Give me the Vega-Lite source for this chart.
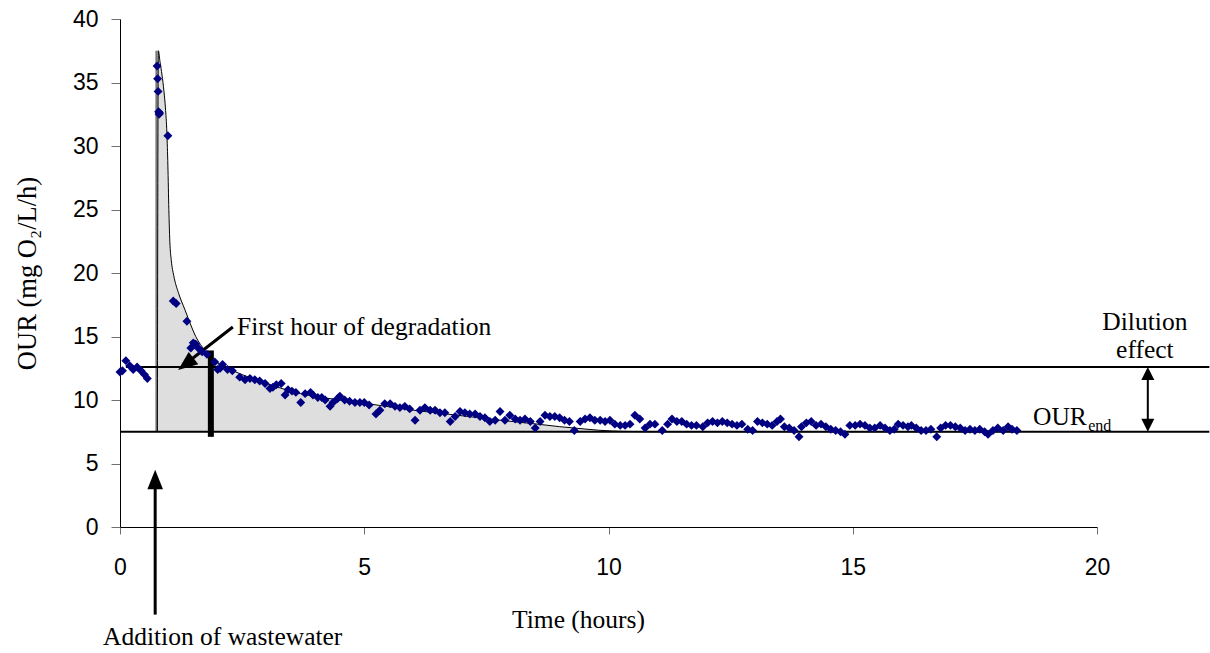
{
  "$schema": "https://vega.github.io/schema/vega-lite/v6.json",
  "width": 977,
  "height": 508,
  "autosize": {"type": "none"},
  "padding": {"left": 120, "top": 19, "right": 113, "bottom": 126},
  "background": "white",
  "config": {"view": {"stroke": null}},
  "encoding": {
    "x": {
      "field": "t", "type": "quantitative",
      "scale": {"domain": [0, 20], "nice": false, "zero": false},
      "axis": {
        "title": "Time (hours)", "values": [0, 5, 10, 15, 20], "grid": false, "labelFlush": false, "labelOverlap": false,
        "labelFont": "Liberation Sans", "labelFontSize": 23, "labelColor": "black", "labelPadding": 22,
        "tickSize": 7, "tickColor": "#707070", "domainColor": "black", "domainWidth": 1,
        "titleFont": "Liberation Serif", "titleFontSize": 25.5, "titleFontWeight": "normal", "titleColor": "black",
        "titleX": 458, "titleY": 100, "titleBaseline": "alphabetic", "titleAlign": "center"
      }
    },
    "y": {
      "field": "v", "type": "quantitative",
      "scale": {"domain": [0, 40], "nice": false, "zero": false},
      "axis": {
        "title": "OUR (mg O₂/L/h)", "values": [0, 5, 10, 15, 20, 25, 30, 35, 40], "grid": false, "labelFlush": false, "labelOverlap": false,
        "labelFont": "Liberation Sans", "labelFontSize": 23, "labelColor": "black", "labelPadding": 13,
        "tickSize": 9, "tickColor": "#707070", "domainColor": "black", "domainWidth": 1,
        "titleFont": "Liberation Serif", "titleFontSize": 26.5, "titleFontWeight": "normal", "titleColor": "black",
        "titleX": -85, "titleY": 254, "titleAngle": -90, "titleBaseline": "alphabetic", "titleAlign": "center"
      }
    }
  },
  "layer": [
    {
      "data": {"values": [
        {"t": 0.745, "v": 37.5}, {"t": 0.785, "v": 37.5}, {"t": 0.82, "v": 36.6}, {"t": 0.86, "v": 35.6},
        {"t": 0.9, "v": 34.3}, {"t": 0.93, "v": 33.0}, {"t": 0.96, "v": 31.0}, {"t": 0.98, "v": 28.5},
        {"t": 1.0, "v": 25.0}, {"t": 1.02, "v": 22.5}, {"t": 1.05, "v": 21.0}, {"t": 1.1, "v": 19.8},
        {"t": 1.2, "v": 18.4}, {"t": 1.33, "v": 17.1}, {"t": 1.45, "v": 15.9}, {"t": 1.55, "v": 15.0},
        {"t": 1.74, "v": 13.9}, {"t": 2.0, "v": 12.9}, {"t": 2.15, "v": 12.6}, {"t": 2.5, "v": 12.0},
        {"t": 3.0, "v": 11.3}, {"t": 3.7, "v": 10.5}, {"t": 4.5, "v": 10.0}, {"t": 5.0, "v": 9.75},
        {"t": 6.0, "v": 9.2}, {"t": 6.8, "v": 8.85}, {"t": 7.8, "v": 8.4}, {"t": 8.5, "v": 8.12},
        {"t": 9.0, "v": 7.9}, {"t": 9.5, "v": 7.72}, {"t": 9.8, "v": 7.62}, {"t": 10.3, "v": 7.53},
        {"t": 11.0, "v": 7.5}, {"t": 18.36, "v": 7.5}
      ]},
      "mark": {"type": "area", "color": "#dedede", "opacity": 1},
      "encoding": {"y2": {"datum": 7.5}}
    },
    {
      "data": {"values": [{"t": 0.745, "v": 7.5, "v2": 37.5}]},
      "mark": {"type": "rule", "color": "#777777", "strokeWidth": 2},
      "encoding": {"y2": {"field": "v2"}}
    },
    {
      "data": {"values": [
        {"t": 0.765, "v": 7.5}, {"t": 0.785, "v": 37.5}, {"t": 0.82, "v": 36.6}, {"t": 0.86, "v": 35.6},
        {"t": 0.9, "v": 34.3}, {"t": 0.93, "v": 33.0}, {"t": 0.96, "v": 31.0}, {"t": 0.98, "v": 28.5},
        {"t": 1.0, "v": 25.0}, {"t": 1.02, "v": 22.5}, {"t": 1.05, "v": 21.0}, {"t": 1.1, "v": 19.8},
        {"t": 1.2, "v": 18.4}, {"t": 1.33, "v": 17.1}, {"t": 1.45, "v": 15.9}, {"t": 1.55, "v": 15.0},
        {"t": 1.74, "v": 13.9}, {"t": 2.0, "v": 12.9}, {"t": 2.15, "v": 12.6}, {"t": 2.5, "v": 12.0},
        {"t": 3.0, "v": 11.3}, {"t": 3.7, "v": 10.5}, {"t": 4.5, "v": 10.0}, {"t": 5.0, "v": 9.75},
        {"t": 6.0, "v": 9.2}, {"t": 6.8, "v": 8.85}, {"t": 7.8, "v": 8.4}, {"t": 8.5, "v": 8.12},
        {"t": 9.0, "v": 7.9}, {"t": 9.5, "v": 7.72}, {"t": 9.8, "v": 7.62}, {"t": 10.3, "v": 7.53},
        {"t": 11.0, "v": 7.5}, {"t": 18.36, "v": 7.5}
      ]},
      "mark": {"type": "line", "color": "black", "strokeWidth": 1, "interpolate": "monotone"}
    },
    {
      "data": {"values": [
        {"t": 0, "t2": 22.3, "v": 7.5},
        {"t": 0.12, "t2": 22.3, "v": 12.6}
      ]},
      "mark": {"type": "rule", "color": "black", "strokeWidth": 2, "clip": false},
      "encoding": {"x2": {"field": "t2"}}
    },
    {
      "data": {"values": [{"t": 1.86, "v": 7.1, "v2": 13.9}]},
      "mark": {"type": "rule", "color": "black", "strokeWidth": 6, "strokeCap": "butt"},
      "encoding": {"y2": {"field": "v2"}}
    },
    {
      "data": {"values": [{"t": 2.31, "v": 15.75, "t2": 1.35, "v2": 12.87}]},
      "mark": {"type": "rule", "color": "black", "strokeWidth": 3},
      "encoding": {"x2": {"field": "t2"}, "y2": {"field": "v2"}}
    },
    {
      "data": {"values": [{"t": 0.72, "v": -6.9, "v2": 3.5}]},
      "mark": {"type": "rule", "color": "black", "strokeWidth": 3, "strokeCap": "butt", "clip": false},
      "encoding": {"y2": {"field": "v2"}}
    },
    {
      "data": {"values": [{"t": 21.04, "v": 8.3, "v2": 11.8}]},
      "mark": {"type": "rule", "color": "black", "strokeWidth": 2, "clip": false},
      "encoding": {"y2": {"field": "v2"}}
    },
    {
      "data": {"values": [
        {"t": 1.19, "v": 12.36, "a": 232},
        {"t": 0.72, "v": 4.5, "a": 0}
      ]},
      "mark": {"type": "point", "shape": "M0,0L0.8,2L-0.8,2Z", "filled": true, "color": "black", "opacity": 1, "size": 380, "strokeWidth": 0, "clip": false},
      "encoding": {"angle": {"field": "a", "type": "quantitative", "scale": null}}
    },
    {
      "data": {"values": [
        {"t": 21.04, "v": 12.6, "a": 0},
        {"t": 21.04, "v": 7.5, "a": 180}
      ]},
      "mark": {"type": "point", "shape": "M0,0L1,2L-1,2Z", "filled": true, "color": "black", "opacity": 1, "size": 169, "strokeWidth": 0, "clip": false},
      "encoding": {"angle": {"field": "a", "type": "quantitative", "scale": null}}
    },
    {
      "data": {"values": [
        {"t": 0.0, "v": 12.2}, {"t": 0.05, "v": 12.3}, {"t": 0.12, "v": 13.1}, {"t": 0.2, "v": 12.7},
        {"t": 0.27, "v": 12.4}, {"t": 0.35, "v": 12.6}, {"t": 0.43, "v": 12.3}, {"t": 0.5, "v": 12.0},
        {"t": 0.56, "v": 11.7},
        {"t": 0.76, "v": 36.3}, {"t": 0.77, "v": 35.3}, {"t": 0.78, "v": 34.3}, {"t": 0.79, "v": 32.7},
        {"t": 0.8, "v": 32.5}, {"t": 0.81, "v": 32.6}, {"t": 0.98, "v": 30.8},
        {"t": 1.09, "v": 17.8}, {"t": 1.15, "v": 17.6}, {"t": 1.37, "v": 16.2}, {"t": 1.45, "v": 14.1},
        {"t": 1.5, "v": 14.5}, {"t": 1.55, "v": 14.4}, {"t": 1.6, "v": 14.1}, {"t": 1.68, "v": 13.8},
        {"t": 1.78, "v": 13.6}, {"t": 1.94, "v": 13.0}, {"t": 2.0, "v": 12.4}, {"t": 2.05, "v": 12.5},
        {"t": 2.1, "v": 12.8}, {"t": 2.2, "v": 12.4}, {"t": 2.3, "v": 12.3}, {"t": 2.45, "v": 11.8},
        {"t": 2.56, "v": 11.6}, {"t": 2.66, "v": 11.7}, {"t": 2.76, "v": 11.6}, {"t": 2.86, "v": 11.5},
        {"t": 2.97, "v": 11.3}, {"t": 3.07, "v": 10.9}, {"t": 3.13, "v": 11.0}, {"t": 3.2, "v": 11.2},
        {"t": 3.3, "v": 11.3}, {"t": 3.38, "v": 10.4}, {"t": 3.44, "v": 10.8}, {"t": 3.52, "v": 10.7},
        {"t": 3.6, "v": 10.6}, {"t": 3.7, "v": 9.8}, {"t": 3.79, "v": 10.5}, {"t": 3.9, "v": 10.6},
        {"t": 3.95, "v": 10.4}, {"t": 4.05, "v": 10.2}, {"t": 4.13, "v": 10.2}, {"t": 4.2, "v": 10.0},
        {"t": 4.3, "v": 9.5}, {"t": 4.36, "v": 9.8}, {"t": 4.45, "v": 10.1}, {"t": 4.5, "v": 10.3},
        {"t": 4.6, "v": 10.0}, {"t": 4.7, "v": 9.9}, {"t": 4.81, "v": 9.8}, {"t": 4.91, "v": 9.8},
        {"t": 5.0, "v": 9.8}, {"t": 5.1, "v": 9.6}, {"t": 5.24, "v": 8.9}, {"t": 5.32, "v": 9.2},
        {"t": 5.42, "v": 9.7}, {"t": 5.53, "v": 9.7}, {"t": 5.63, "v": 9.5}, {"t": 5.73, "v": 9.4},
        {"t": 5.83, "v": 9.5}, {"t": 5.93, "v": 9.3}, {"t": 6.04, "v": 8.4}, {"t": 6.14, "v": 9.2},
        {"t": 6.24, "v": 9.4}, {"t": 6.35, "v": 9.2}, {"t": 6.45, "v": 9.2}, {"t": 6.55, "v": 9.0},
        {"t": 6.65, "v": 9.0}, {"t": 6.76, "v": 8.3}, {"t": 6.86, "v": 8.7}, {"t": 6.96, "v": 9.1},
        {"t": 7.06, "v": 9.0}, {"t": 7.16, "v": 8.9}, {"t": 7.27, "v": 8.9}, {"t": 7.37, "v": 8.7},
        {"t": 7.47, "v": 8.6}, {"t": 7.57, "v": 8.3}, {"t": 7.68, "v": 8.4}, {"t": 7.78, "v": 9.1},
        {"t": 7.88, "v": 8.4}, {"t": 7.98, "v": 8.8}, {"t": 8.09, "v": 8.5}, {"t": 8.19, "v": 8.4},
        {"t": 8.29, "v": 8.5}, {"t": 8.4, "v": 8.3}, {"t": 8.5, "v": 7.8}, {"t": 8.6, "v": 8.3},
        {"t": 8.7, "v": 8.8}, {"t": 8.8, "v": 8.7}, {"t": 8.9, "v": 8.7}, {"t": 9.0, "v": 8.6},
        {"t": 9.1, "v": 8.4}, {"t": 9.2, "v": 8.3}, {"t": 9.3, "v": 7.6}, {"t": 9.42, "v": 8.3},
        {"t": 9.52, "v": 8.5}, {"t": 9.62, "v": 8.6}, {"t": 9.72, "v": 8.4}, {"t": 9.83, "v": 8.4},
        {"t": 9.93, "v": 8.3}, {"t": 10.03, "v": 8.4}, {"t": 10.13, "v": 8.1}, {"t": 10.24, "v": 8.0},
        {"t": 10.34, "v": 8.0}, {"t": 10.44, "v": 8.1}, {"t": 10.54, "v": 8.8}, {"t": 10.64, "v": 8.5},
        {"t": 10.75, "v": 7.8}, {"t": 10.85, "v": 8.1}, {"t": 10.95, "v": 8.1}, {"t": 11.1, "v": 7.6},
        {"t": 11.21, "v": 8.1}, {"t": 11.3, "v": 8.5}, {"t": 11.4, "v": 8.3}, {"t": 11.5, "v": 8.3},
        {"t": 11.6, "v": 8.1}, {"t": 11.7, "v": 8.0}, {"t": 11.8, "v": 8.0}, {"t": 11.93, "v": 7.9},
        {"t": 12.03, "v": 8.2}, {"t": 12.13, "v": 8.3}, {"t": 12.23, "v": 8.2}, {"t": 12.33, "v": 8.3},
        {"t": 12.43, "v": 8.2}, {"t": 12.53, "v": 8.1}, {"t": 12.63, "v": 8.0}, {"t": 12.73, "v": 8.1},
        {"t": 12.85, "v": 7.7}, {"t": 12.95, "v": 7.6}, {"t": 13.05, "v": 8.3}, {"t": 13.15, "v": 8.2},
        {"t": 13.25, "v": 8.1}, {"t": 13.35, "v": 8.0}, {"t": 13.45, "v": 8.3}, {"t": 13.52, "v": 8.5},
        {"t": 13.6, "v": 7.9}, {"t": 13.7, "v": 7.8}, {"t": 13.8, "v": 7.6}, {"t": 13.9, "v": 7.1},
        {"t": 13.95, "v": 7.9}, {"t": 14.05, "v": 8.2}, {"t": 14.15, "v": 8.3}, {"t": 14.25, "v": 8.0},
        {"t": 14.35, "v": 8.1}, {"t": 14.45, "v": 7.9}, {"t": 14.55, "v": 7.7}, {"t": 14.65, "v": 7.6},
        {"t": 14.75, "v": 7.5}, {"t": 14.84, "v": 7.3}, {"t": 14.94, "v": 8.0}, {"t": 15.05, "v": 8.0},
        {"t": 15.15, "v": 8.1}, {"t": 15.25, "v": 8.0}, {"t": 15.35, "v": 7.8}, {"t": 15.45, "v": 7.8},
        {"t": 15.56, "v": 8.0}, {"t": 15.66, "v": 7.8}, {"t": 15.76, "v": 7.6}, {"t": 15.85, "v": 7.7},
        {"t": 15.93, "v": 8.1}, {"t": 16.03, "v": 8.0}, {"t": 16.13, "v": 7.9}, {"t": 16.2, "v": 8.0},
        {"t": 16.3, "v": 7.8}, {"t": 16.4, "v": 7.6}, {"t": 16.5, "v": 7.6}, {"t": 16.6, "v": 7.7},
        {"t": 16.72, "v": 7.1}, {"t": 16.8, "v": 7.8}, {"t": 16.9, "v": 8.0}, {"t": 17.0, "v": 8.0},
        {"t": 17.1, "v": 7.9}, {"t": 17.2, "v": 7.8}, {"t": 17.3, "v": 7.6}, {"t": 17.4, "v": 7.7},
        {"t": 17.5, "v": 7.6}, {"t": 17.6, "v": 7.7}, {"t": 17.7, "v": 7.5}, {"t": 17.77, "v": 7.3},
        {"t": 17.87, "v": 7.6}, {"t": 17.97, "v": 7.8}, {"t": 18.08, "v": 7.6}, {"t": 18.18, "v": 7.9},
        {"t": 18.26, "v": 7.7}, {"t": 18.36, "v": 7.6}
      ]},
      "mark": {"type": "point", "shape": "diamond", "filled": true, "color": "#000080", "opacity": 1, "size": 80}
    },
    {
      "data": {"values": [
        {"t": 2.395, "v": 15.12, "label": "First hour of degradation"},
        {"t": -0.348, "v": -9.29, "label": "Addition of wastewater"},
        {"t": 18.69, "v": 8.03, "label": "OUR"}
      ]},
      "mark": {"type": "text", "font": "Liberation Serif", "fontSize": 25.5, "align": "left", "baseline": "alphabetic", "color": "black", "clip": false},
      "encoding": {"text": {"field": "label"}}
    },
    {
      "data": {"values": [
        {"t": 19.82, "v": 7.56, "label": "end"}
      ]},
      "mark": {"type": "text", "font": "Liberation Serif", "fontSize": 16, "align": "left", "baseline": "alphabetic", "color": "black", "clip": false},
      "encoding": {"text": {"field": "label"}}
    },
    {
      "data": {"values": [
        {"t": 20.98, "v": 15.51, "label": "Dilution"},
        {"t": 20.98, "v": 13.31, "label": "effect"}
      ]},
      "mark": {"type": "text", "font": "Liberation Serif", "fontSize": 25.5, "align": "center", "baseline": "alphabetic", "color": "black", "clip": false},
      "encoding": {"text": {"field": "label"}}
    }
  ]
}
